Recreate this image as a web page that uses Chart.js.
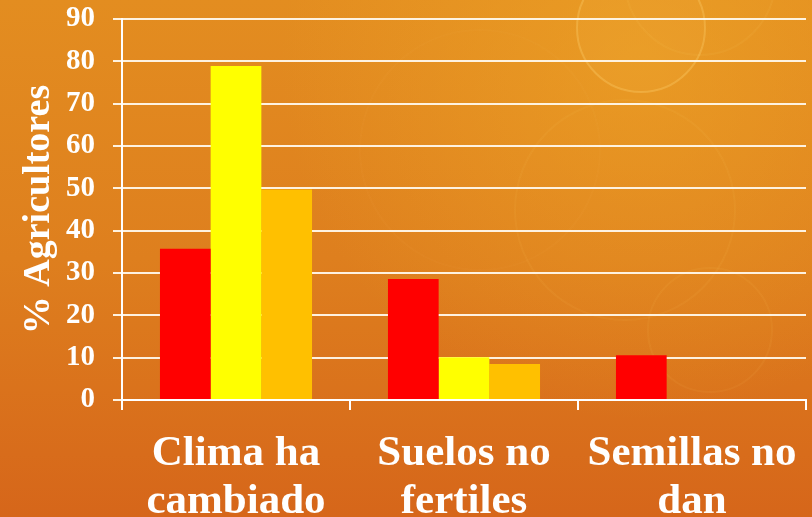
<!DOCTYPE html>
<html>
<head>
<meta charset="utf-8">
<script src="https://cdn.jsdelivr.net/npm/chart.js@4"></script>
<style>
  html, body { margin: 0; padding: 0; background: #dc7a1e; }
  #wrap { width: 812px; height: 517px; position: relative; }
</style>
</head>
<body>
<div id="wrap"><canvas id="cropChart" width="812" height="517"></canvas></div>
<script>
// categories and series
const categories = [['Clima ha', 'cambiado'], ['Suelos no', 'fertiles'], ['Semillas no', 'dan']];
const redValues = [35.7, 28.6, 10.6];
const yellowValues = [78.9, 10.1, 0];
const amberValues = [49.7, 8.5, 0];
const yTicks = [0, 10, 20, 30, 40, 50, 60, 70, 80, 90];

const serif = '"Liberation Serif", "Times New Roman", serif';

// Orange slide background with soft bokeh rings
const slideBackground = {
  id: 'slideBackground',
  beforeDraw(chart) {
    const { ctx, width, height } = chart;
    ctx.save();
    const g = ctx.createLinearGradient(0, 0, 0, height);
    g.addColorStop(0, '#e38d20');
    g.addColorStop(0.5, '#de7f1e');
    g.addColorStop(1, '#d6661a');
    ctx.fillStyle = g;
    ctx.fillRect(0, 0, width, height);

    // warm glow top right
    const glow = ctx.createRadialGradient(640, 60, 10, 640, 60, 360);
    glow.addColorStop(0, 'rgba(240, 170, 40, 0.5)');
    glow.addColorStop(1, 'rgba(240, 170, 40, 0)');
    ctx.fillStyle = glow;
    ctx.fillRect(0, 0, width, height);

    const rings = [
      [641, 28, 64, 0.3],
      [700, -20, 75, 0.08],
      [625, 210, 110, 0.07],
      [710, 330, 62, 0.07],
      [480, 150, 120, 0.04]
    ];
    rings.forEach(([x, y, r, a]) => {
      ctx.beginPath();
      ctx.arc(x, y, r, 0, Math.PI * 2);
      ctx.strokeStyle = `rgba(255, 215, 120, ${a})`;
      ctx.lineWidth = 2;
      ctx.stroke();
      ctx.fillStyle = `rgba(255, 200, 90, ${a * 0.25})`;
      ctx.fill();
    });
    ctx.restore();
  }
};

new Chart(document.getElementById('cropChart'), {
  type: 'bar',
  data: {
    labels: categories,
    datasets: [
      { label: 'A', data: redValues, backgroundColor: '#ff0000' },
      { label: 'B', data: yellowValues, backgroundColor: '#ffff00' },
      { label: 'C', data: amberValues, backgroundColor: '#ffc000' }
    ]
  },
  options: {
    responsive: false,
    animation: false,
    layout: { padding: { top: 19, right: 6, left: 0, bottom: 0 } },
    datasets: {
      bar: { categoryPercentage: 0.667, barPercentage: 1.0 }
    },
    plugins: {
      legend: { display: false },
      tooltip: { enabled: false }
    },
    scales: {
      x: {
        afterFit(scale) {
          scale.height = 117;
          scale.paddingLeft = 0;
          scale.paddingRight = 0;
        },
        grid: {
          drawOnChartArea: false,
          drawTicks: true,
          tickLength: 10,
          color: '#ffffff',
          lineWidth: 2
        },
        border: { color: '#ffffff', width: 2 },
        ticks: {
          color: '#ffffff',
          padding: 20,
          maxRotation: 0,
          font: { family: serif, size: 43, weight: 'bold', lineHeight: 1.12 }
        }
      },
      y: {
        min: 0,
        max: 90,
        afterFit(scale) {
          scale.width = 122;
          scale.paddingTop = 0;
          scale.paddingBottom = 0;
        },
        afterBuildTicks(scale) { scale.ticks = yTicks.map(v => ({ value: v })); },
        grid: {
          color: 'rgba(255, 248, 235, 0.95)',
          lineWidth: 2,
          tickLength: 9
        },
        border: { color: '#ffffff', width: 2 },
        ticks: {
          color: '#ffffff',
          padding: 18,
          font: { family: serif, size: 29, weight: 'bold' }
        },
        title: {
          display: true,
          text: '% Agricultores',
          color: '#ffffff',
          padding: { top: 16, bottom: 0 },
          font: { family: serif, size: 38, weight: 'bold' }
        }
      }
    }
  },
  plugins: [slideBackground]
});
</script>
</body>
</html>
